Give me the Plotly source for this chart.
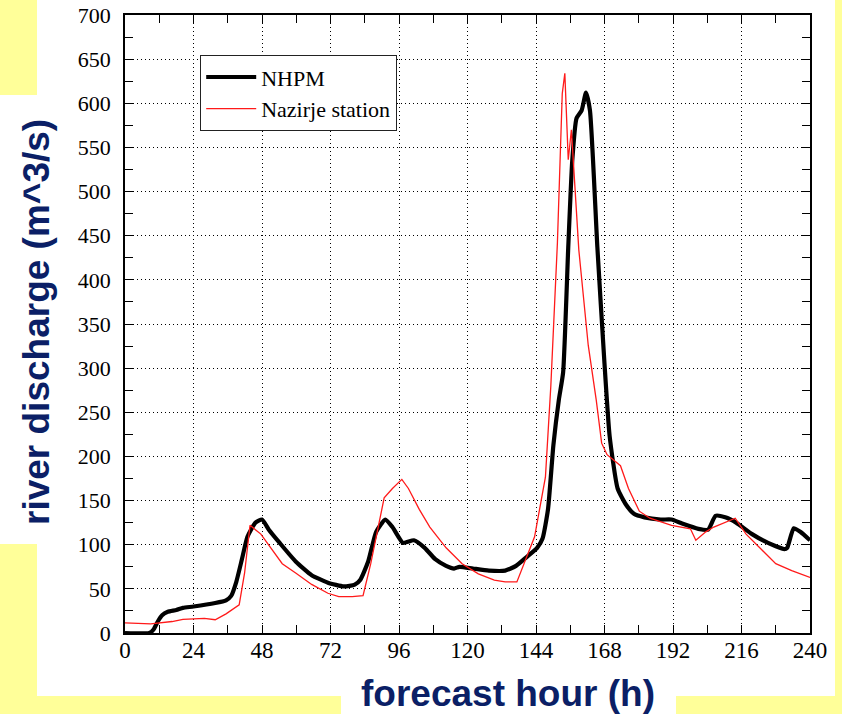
import plotly.graph_objects as go

# ---------------- data ----------------
nhpm_hours = [0, 8.5, 10, 11.5, 13, 15, 18, 20.3, 24, 31.6, 35.4, 37.2, 39, 41, 42.9,
              45.7, 48, 50.4, 54.2, 59.8, 65.4, 71.1, 76.7, 80.5, 82.4, 85.2, 88, 91.2,
              93.7, 97.4, 101.2, 105, 108.7, 112.5, 115.3, 117.2, 121.9, 127.5, 133.2,
              137, 140.7, 144.4, 146.3, 148.2, 150.1, 152, 153.5, 155.3, 156.7, 158.2,
              160, 161.5, 162.9, 165.5, 168, 169.8, 172.6, 175.5, 178.3, 182, 187.7,
              191.5, 195.2, 200.9, 204.3, 206.9, 210.3, 214.1, 219.7, 225.3, 231, 232,
              234.3, 236.6, 240]
nhpm_values = [0, 0, 4, 13, 20, 24, 26, 28.5, 30, 34, 37, 42, 58, 84, 109,
               125, 128.5, 117, 102, 81, 65.5, 57, 52.7, 54.7, 60, 81, 114.6, 128.5,
               120, 102, 105, 96.5, 83.6, 76, 73, 75, 73, 70.7, 70.7,
               76, 86, 96.5, 107, 140, 213, 264, 295, 437, 535, 583,
               592, 612, 592, 437, 305, 223, 163.7, 145.6, 135, 131, 128.5,
               128.5, 124, 118, 117, 132.7, 131, 125, 112, 102, 95, 96.5,
               118.7, 114.6, 105]

station_hours = [0, 9, 16.5, 20.3, 27.8, 31.6, 35.4, 40, 41.9, 43.8, 47.6, 50.4, 55.1,
                 59.8, 65.4, 71.1, 74.9, 79.6, 83.4, 86.1, 89, 90.8, 93.7, 97, 99.3,
                 103.1, 106.8, 112.5, 118.1, 123.8, 129.4, 133.2, 137.3, 140.7, 143.5,
                 147.3, 149.2, 151.5, 153.2, 154.1, 155.3, 156.4, 159, 162.3, 165.1,
                 167, 168.9, 173.6, 176.4, 180.2, 183.9, 191.5, 198.1, 200, 203.5,
                 206.3, 213.8, 217.6, 222.3, 228, 233.6, 240]
station_values = [11.4, 10.3, 13, 15.5, 16.5, 15, 21.7, 32, 68, 122, 112, 99, 78.5,
                  68, 55, 45, 41.3, 41.3, 42.3, 78.5, 125, 153, 163.7, 174, 163.7,
                  140, 120, 96.5, 78.5, 67, 60, 57.8, 57.8, 86, 109,
                  176.5, 280, 442, 611, 634, 536, 570, 434, 326, 264,
                  215, 202, 189.5, 163.7, 138, 130, 122, 118, 105, 114.6,
                  120, 130, 112, 96.5, 78.5, 70.7, 63]

series_names = ["NHPM", "Nazirje station"]
x_tick_vals = [0, 24, 48, 72, 96, 120, 144, 168, 192, 216, 240]
y_tick_vals = list(range(0, 701, 50))
x_title = "forecast hour (h)"
y_title = "river discharge (m^3/s)"

# ---------------- layout helpers (pixel -> paper) ----------------
W, H = 842, 714
L, R, T, B = 125, 32, 15, 81
PW, PH = W - L - R, H - T - B


def px(p):
    return (p - L) / PW


def py(p):
    return (H - B - p) / PH


YELLOW = "#FFFF99"
NAVY = "#0B1F66"
SERIF = "Liberation Serif, Times New Roman, Times, serif"
SANS = "Liberation Sans, Arial, Helvetica, sans-serif"

fig = go.Figure()
fig.add_trace(go.Scatter(x=nhpm_hours, y=nhpm_values, mode="lines", name=series_names[0],
                         line=dict(color="black", width=4.2, shape="spline", smoothing=0.5)))
fig.add_trace(go.Scatter(x=station_hours, y=station_values, mode="lines", name=series_names[1],
                         line=dict(color="#FF1A1A", width=1.3)))

shapes = [
    dict(type="rect", xref="paper", yref="paper", x0=px(37), x1=px(835), y0=py(0), y1=py(696),
         fillcolor="white", line_width=0, layer="below"),
    dict(type="rect", xref="paper", yref="paper", x0=px(0), x1=px(38), y0=py(95), y1=py(544),
         fillcolor="white", line_width=0, layer="below"),
    dict(type="rect", xref="paper", yref="paper", x0=px(341), x1=px(676), y0=py(695), y1=py(714),
         fillcolor="white", line_width=0, layer="below"),
]

axis_common = dict(
    showline=True, linecolor="black", linewidth=1.6, mirror="ticks",
    ticks="inside", ticklen=8, tickwidth=1.2, tickcolor="black",
    showgrid=True, gridcolor="black", gridwidth=1.1, griddash="1px,3px",
    zeroline=False, automargin=False,
)

fig.update_xaxes(range=[0, 240], tickvals=x_tick_vals,
                 tickfont=dict(family=SERIF, size=23, color="black"),
                 minor=dict(dtick=12, tick0=0, ticks="inside", ticklen=8, tickwidth=1.2,
                            tickcolor="black", showgrid=False),
                 ticklabelstandoff=-4, **axis_common)
fig.update_yaxes(range=[0, 700], tickvals=y_tick_vals,
                 tickfont=dict(family=SERIF, size=22, color="black"),
                 minor=dict(dtick=25, tick0=0, ticks="inside", ticklen=8, tickwidth=1.2,
                            tickcolor="black", showgrid=False),
                 ticklabelstandoff=8, **axis_common)

fig.update_layout(
    width=W, height=H,
    margin=dict(l=L, r=R, t=T, b=B, autoexpand=False),
    paper_bgcolor=YELLOW, plot_bgcolor="white",
    shapes=shapes,
    showlegend=True,
    legend=dict(x=px(200), y=py(55), xanchor="left", yanchor="top",
                bgcolor="white", bordercolor="#222", borderwidth=1.2,
                font=dict(family=SERIF, size=22, color="black"),
                itemwidth=50, tracegroupgap=0),
    annotations=[
        dict(text="<b>" + x_title + "</b>", xref="paper", yref="paper",
             x=px(508), y=py(694), xanchor="center", yanchor="middle", showarrow=False,
             font=dict(family=SANS, size=37, color=NAVY)),
        dict(text="<b>" + y_title + "</b>", xref="paper", yref="paper",
             x=px(36), y=py(322), xanchor="center", yanchor="middle", showarrow=False,
             textangle=-90,
             font=dict(family=SANS, size=37, color=NAVY)),
    ],
)

fig.write_html("out.html", config={"displayModeBar": False},
               post_script="document.body.style.margin='0';document.body.style.overflow='hidden';")
